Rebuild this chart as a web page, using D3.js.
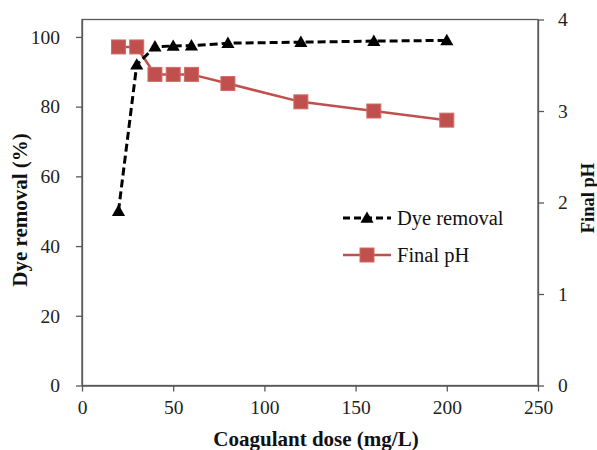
<!DOCTYPE html>
<html><head><meta charset="utf-8">
<script src="https://cdn.jsdelivr.net/npm/d3@7/dist/d3.min.js"></script>
<style>html,body{margin:0;padding:0;background:#fff;}svg{display:block;}
svg text{font-family:"Liberation Serif","Times New Roman",Times,serif !important;}</style>
</head><body>
<svg id="c" width="597" height="450"></svg>
<script>
const doses = [20, 30, 40, 50, 60, 80, 120, 160, 200];
const dyeRemoval = [50, 92, 97.2, 97.4, 97.5, 98.2, 98.5, 98.8, 99.0];
const finalPH = [3.7, 3.7, 3.4, 3.4, 3.4, 3.3, 3.1, 3.0, 2.9];
const xTicks = [0, 50, 100, 150, 200, 250];
const yLeftTicks = [0, 20, 40, 60, 80, 100];
const yRightTicks = [0, 1, 2, 3, 4];
const seriesNames = ["Dye removal", "Final pH"];

const svg = d3.select("#c");
const L = 82, R = 538, T = 19.5, B = 385.5;
const axisColor = "#595959";
const red = "#C0504D";

const x = d3.scaleLinear().domain([0, 250]).range([L, R]);
const yL = d3.scaleLinear().domain([0, 105]).range([B, T]);
const yR = d3.scaleLinear().domain([0, 4]).range([B, T]);

svg.append("rect").attr("x", L).attr("y", T).attr("width", R - L).attr("height", B - T)
  .attr("fill", "none").attr("stroke", axisColor).attr("stroke-width", 1.3);

function styleAxis(g) {
  g.attr("font-family", null);
  g.select(".domain").attr("stroke", axisColor).attr("stroke-width", 1.3);
  g.selectAll(".tick line").attr("stroke", axisColor).attr("stroke-width", 1.3);
  g.selectAll(".tick text").attr("fill", "#222").style("font-size", "19.5px");
}

const gx = svg.append("g").attr("transform", `translate(0,${B})`)
  .call(d3.axisBottom(x).tickValues(xTicks).tickFormat(d3.format("d")).tickSize(6).tickPadding(9).tickSizeOuter(0));
styleAxis(gx);

const gl = svg.append("g").attr("transform", `translate(${L},0)`)
  .call(d3.axisLeft(yL).tickValues(yLeftTicks).tickFormat(d3.format("d")).tickSize(6).tickPadding(16).tickSizeOuter(0));
styleAxis(gl);

const gr = svg.append("g").attr("transform", `translate(${R},0)`)
  .call(d3.axisRight(yR).tickValues(yRightTicks).tickFormat(d3.format("d")).tickSize(6).tickPadding(14).tickSizeOuter(0));
styleAxis(gr);

function title(t, tr, size) {
  svg.append("text").attr("transform", tr).attr("text-anchor", "middle")
    .style("font-weight", "bold").style("font-size", size).attr("fill", "#111").text(t);
}
title("Coagulant dose (mg/L)", "translate(316,446)", "21px");
title("Dye removal (%)", "translate(27,210) rotate(-90)", "21px");
title("Final pH", "translate(594,198) rotate(-90)", "18.5px");

const dyeData = doses.map((d, i) => ({ x: d, y: dyeRemoval[i] }));
const phData = doses.map((d, i) => ({ x: d, y: finalPH[i] }));

svg.append("path").datum(phData)
  .attr("d", d3.line().x(d => x(d.x)).y(d => yR(d.y)))
  .attr("fill", "none").attr("stroke", red).attr("stroke-width", 2.5);
const sq = 14;
svg.selectAll(".sq").data(phData).enter().append("rect")
  .attr("x", d => x(d.x) - sq / 2).attr("y", d => yR(d.y) - sq / 2)
  .attr("width", sq).attr("height", sq)
  .attr("fill", red).attr("stroke", "#D46A66").attr("stroke-width", 1);

svg.append("path").datum(dyeData)
  .attr("d", d3.line().x(d => x(d.x)).y(d => yL(d.y)))
  .attr("fill", "none").attr("stroke", "#000").attr("stroke-width", 3)
  .attr("stroke-dasharray", "8,4");
const tri = d3.symbol().type(d3.symbolTriangle).size(75);
svg.selectAll(".tri").data(dyeData).enter().append("path")
  .attr("d", tri)
  .attr("transform", d => `translate(${x(d.x)},${yL(d.y) + 1})`)
  .attr("fill", "#000");

const lg = svg.append("g");
const lx1 = 343, lx2 = 391, lmid = 367, tx = 397;
const rows = [218, 255];
lg.append("line").attr("x1", lx1).attr("x2", lx2).attr("y1", rows[0]).attr("y2", rows[0])
  .attr("stroke", "#000").attr("stroke-width", 3).attr("stroke-dasharray", "7,4");
lg.append("path").attr("d", tri).attr("transform", `translate(${lmid},${rows[0] + 1})`).attr("fill", "#000");
lg.append("line").attr("x1", lx1).attr("x2", lx2).attr("y1", rows[1]).attr("y2", rows[1])
  .attr("stroke", red).attr("stroke-width", 2.5);
lg.append("rect").attr("x", lmid - sq / 2).attr("y", rows[1] - sq / 2).attr("width", sq).attr("height", sq)
  .attr("fill", red).attr("stroke", "#D46A66").attr("stroke-width", 1);
lg.selectAll(".lt").data(seriesNames).enter().append("text")
  .attr("x", tx).attr("y", (d, i) => rows[i] + 7)
  .style("font-size", "20.5px").attr("fill", "#111")
  .text(d => d);
</script>
</body></html>
